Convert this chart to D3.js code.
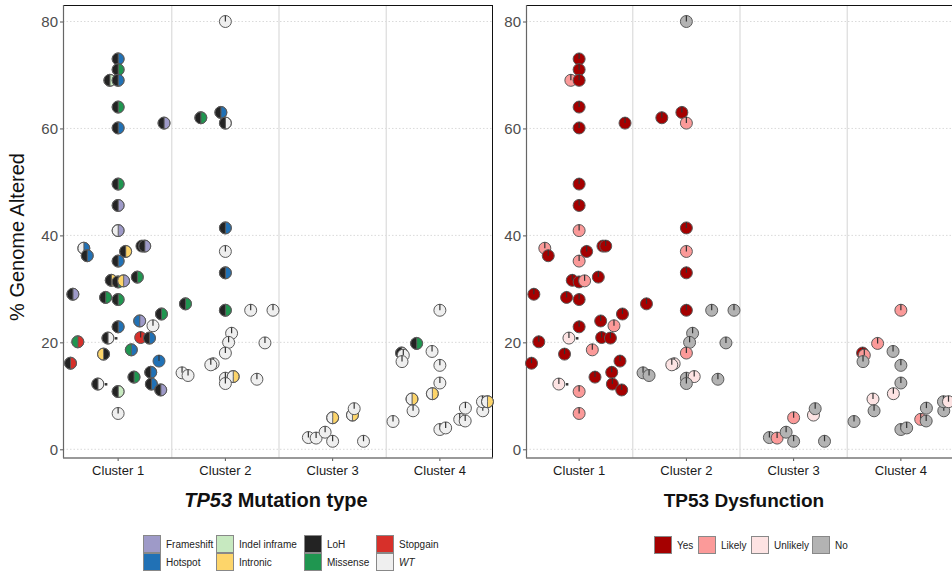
<!DOCTYPE html>
<html><head><meta charset="utf-8">
<script src="https://cdn.jsdelivr.net/npm/d3@7"></script>
<style>body{margin:0;background:#fff}svg{display:block;font-family:"Liberation Sans",Arial,sans-serif}</style>
</head><body><svg id="c" width="952" height="572"></svg>
<script>
// ---------- data ----------
const clusters = ["Cluster 1","Cluster 2","Cluster 3","Cluster 4"];
const yTicks = [0,20,40,60,80];
const mutTypes = ["Frameshift","Hotspot","Indel inframe","Intronic","LoH","Missense","Stopgain","WT"];
const mutColors = ["#9e9ac8","#2171b5","#c7e9c0","#fdd56a","#232323","#1f9650","#d7302a","#efefef"];
const dysTypes = ["Yes","Likely","Unlikely","No"];
const dysColors = ["#a50000","#fb9a99","#fde3e3","#b3b3b3"];

const ptCluster = [1,1,1,1,1,1,1,1,1,1,1,1,1,1,1,1,1,1,1,1,1,1,1,1,1,1,1,1,1,1,1,1,1,1,1,1,1,1,1,1,1,1,
  2,2,2,2,2,2,2,2,2,2,2,2,2,2,2,2,2,2,2,2,2,2,2,
  3,3,3,3,3,3,3,3,
  4,4,4,4,4,4,4,4,4,4,4,4,4,4,4,4,4,4,4,4];
const ptJitter = [0,0,-0.077,0,0,0,0.428,0,0,0,-0.320,-0.288,0.070,0.222,0.248,0,-0.064,0,0.051,0.179,-0.422,-0.117,0,0.404,0,0.201,0.325,-0.095,-0.376,0.210,0.292,-0.136,0.123,-0.444,0.381,0.304,0.148,-0.189,0.310,0.397,0,0,
  0,-0.229,-0.042,0,0,0,0,-0.372,0,0.236,0.444,0.058,0.030,0.369,0,-0.114,-0.136,-0.404,-0.348,0,0.073,0,0.294,
  -0.226,-0.154,-0.070,0,0,0.185,0.201,0.288,
  0,-0.217,-0.357,-0.341,-0.353,-0.073,0,0,-0.070,-0.260,-0.250,-0.437,0,0.054,0.185,0.236,0.238,0.400,0.397,0.444];
const ptGenome = [73.0,71.0,69.0,69.0,64.0,60.1,61.0,49.6,45.6,40.9,37.6,36.2,37.0,38.0,38.0,35.2,31.6,31.3,31.5,32.2,29.0,28.4,28.0,25.3,22.9,24.0,23.1,20.8,20.1,20.9,20.8,17.8,18.6,16.1,16.5,14.4,13.5,12.2,12.2,11.1,10.8,6.7,
  80.0,62.0,63.0,61.0,41.4,37.0,33.0,27.2,26.0,26.0,26.0,21.7,20.0,19.9,18.0,16.0,15.8,14.3,13.8,13.3,13.6,12.3,13.1,
  2.2,2.1,3.2,1.5,5.9,6.4,7.6,1.5,
  26.0,19.8,18.0,17.6,16.4,18.3,15.7,12.4,10.4,9.4,7.2,5.2,3.7,4.0,5.6,5.3,7.7,7.2,8.9,8.9];
const ptLeft = ["LoH","LoH","LoH","LoH","LoH","LoH","LoH","LoH","LoH","WT","WT","LoH","LoH","LoH","LoH","LoH","LoH","LoH","Intronic","LoH","LoH","LoH","LoH","LoH","LoH","Hotspot","WT","LoH","Missense","Stopgain","LoH","Intronic","Missense","LoH","Hotspot","LoH","LoH","LoH","LoH","LoH","LoH","WT",
  "WT","LoH","LoH","LoH","LoH","WT","LoH","LoH","LoH","WT","WT","WT","WT","WT","WT","WT","WT","WT","WT","WT","WT","WT","WT",
  "WT","WT","WT","WT","WT","WT","WT","WT",
  "WT","LoH","LoH","WT","WT","WT","WT","WT","WT","WT","WT","WT","WT","WT","WT","WT","WT","WT","WT","WT"];
const ptRight = ["Hotspot","Missense","Indel inframe","Hotspot","Missense","Hotspot","Frameshift","Missense","Frameshift","Frameshift","Hotspot","Hotspot","Intronic","LoH","Frameshift","Hotspot","Intronic","Missense","Frameshift","Missense","Frameshift","Missense","Missense","Missense","Hotspot","Frameshift","WT","WT","Stopgain","Stopgain","Hotspot","LoH","Hotspot","Stopgain","Hotspot","Hotspot","Missense","WT","Hotspot","Frameshift","Indel inframe","WT",
  "WT","Missense","Hotspot","WT","Hotspot","WT","Hotspot","Missense","Missense","WT","WT","WT","WT","WT","WT","WT","WT","WT","WT","WT","Intronic","WT","WT",
  "WT","WT","WT","WT","Intronic","Intronic","WT","WT",
  "WT","Missense","WT","WT","WT","WT","WT","WT","Intronic","Intronic","WT","WT","WT","WT","WT","WT","WT","WT","WT","Intronic"];
const ptDys = ["Yes","Yes","Likely","Yes","Yes","Yes","Yes","Yes","Yes","Likely","Likely","Yes","Yes","Yes","Yes","Likely","Yes","Yes","Likely","Yes","Yes","Yes","Yes","Yes","Yes","Yes","Likely","Unlikely","Yes","Yes","Yes","Yes","Likely","Yes","Yes","Yes","Yes","Unlikely","Yes","Yes","Likely","Likely",
  "No","Yes","Yes","Likely","Yes","Likely","Yes","Yes","Yes","No","No","No","No","No","Likely","Unlikely","Unlikely","No","No","No","Unlikely","No","No",
  "No","Likely","No","No","Likely","Unlikely","No","No",
  "Likely","Likely","Yes","Likely","No","No","No","No","Unlikely","Unlikely","No","No","No","No","Likely","No","No","No","No","Unlikely"];
const ptExtra = ptGenome.map((_,i)=> (i===27||i===37) ? 1 : 0); // small secondary marker next to two samples

const points = ptGenome.map((v,i)=>({cluster:clusters[ptCluster[i]-1], jit:ptJitter[i], v, left:ptLeft[i], right:ptRight[i], dys:ptDys[i], extra:ptExtra[i]}));

// ---------- drawing ----------
const svg = d3.select("#c");
const mutColor = d3.scaleOrdinal(mutTypes, mutColors);
const dysColor = d3.scaleOrdinal(dysTypes, dysColors);
const y = d3.scaleLinear().domain([0,80]).range([449.3,21.5]);
const plotTop = 5, plotBottom = 458, R = 6;
const arc = d3.arc().innerRadius(0).outerRadius(R);

const panels = [
  {x0:63, x1:493, band:[64.5,493.5], mode:"mut"},
  {x0:526, x1:960, band:[525.5,954.5], mode:"dys"}
];

panels.forEach(p=>{
  const x = d3.scaleBand().domain(clusters).range(p.band).padding(0);
  const g = svg.append("g");
  g.selectAll(".hg").data(yTicks).join("line")
    .attr("x1",p.x0).attr("x2",p.x1).attr("y1",d=>y(d)).attr("y2",d=>y(d))
    .attr("stroke","#d0d0d0").attr("stroke-width",0.8).attr("stroke-dasharray","1.5,2");
  g.selectAll(".vs").data(clusters.slice(1)).join("line")
    .attr("x1",d=>x(d)).attr("x2",d=>x(d)).attr("y1",plotTop).attr("y2",plotBottom)
    .attr("stroke","#dedede").attr("stroke-width",1.3);
  g.append("line").attr("x1",p.x0).attr("x2",p.x1).attr("y1",plotTop+0.5).attr("y2",plotTop+0.5).attr("stroke","#111").attr("stroke-width",1);
  if (p.mode==="mut") g.append("line").attr("x1",p.x1-0.5).attr("x2",p.x1-0.5).attr("y1",plotTop).attr("y2",plotBottom).attr("stroke","#111").attr("stroke-width",1);
  const ya = g.append("g").attr("transform",`translate(${p.x0},0)`)
    .call(d3.axisLeft(y).tickValues(yTicks).tickSize(3).tickPadding(2).tickSizeOuter(0));
  ya.select(".domain").remove();
  ya.selectAll("line").attr("stroke","#555");
  ya.selectAll("text").attr("font-size",15).attr("fill","#4d4d4d").attr("font-family","Liberation Sans, Arial");
  g.append("line").attr("x1",p.x0+0.5).attr("x2",p.x0+0.5).attr("y1",plotTop).attr("y2",plotBottom).attr("stroke","#666").attr("stroke-width",1.2);
  const xa = g.append("g").attr("transform",`translate(0,${plotBottom})`)
    .call(d3.axisBottom(x).tickSize(3).tickPadding(5).tickSizeOuter(0));
  xa.select(".domain").remove();
  xa.selectAll("line").attr("stroke","#555");
  xa.selectAll("text").attr("font-size",13).attr("fill","#1a1a1a").attr("font-family","Liberation Sans, Arial");
  g.append("line").attr("x1",p.x0).attr("x2",p.x1).attr("y1",plotBottom).attr("y2",plotBottom).attr("stroke","#777").attr("stroke-width",1.3);

  const pts = g.selectAll(".pt").data(points).join("g")
    .attr("transform",d=>`translate(${x(d.cluster)+x.bandwidth()/2 + d.jit*x.bandwidth()},${y(d.v)})`);
  pts.each(function(d){
    const s = d3.select(this);
    if (d.extra) {
      s.append("rect").attr("x",R+1).attr("y",-1).attr("width",2.5).attr("height",2.5).attr("fill","#333");
    }
    if (p.mode==="dys" || d.left===d.right) {
      const c = p.mode==="dys" ? dysColor(d.dys) : mutColor(d.right);
      s.append("circle").attr("r",R).attr("fill",c).attr("stroke","#5a5a5a").attr("stroke-width",1);
      s.append("line").attr("x1",0).attr("y1",0).attr("x2",0).attr("y2",-R).attr("stroke","#333").attr("stroke-width",1.2);
    } else {
      s.append("path").attr("d",arc({startAngle:0,endAngle:Math.PI})).attr("fill",mutColor(d.right)).attr("stroke","#5a5a5a").attr("stroke-width",0.8);
      s.append("path").attr("d",arc({startAngle:Math.PI,endAngle:2*Math.PI})).attr("fill",mutColor(d.left)).attr("stroke","#5a5a5a").attr("stroke-width",0.8);
      s.append("circle").attr("r",R).attr("fill","none").attr("stroke","#5a5a5a").attr("stroke-width",1);
    }
  });
});

svg.append("text").attr("transform","translate(24,237) rotate(-90)").attr("text-anchor","middle")
  .attr("font-size",20).attr("fill","#111").text("% Genome Altered");

const t1 = svg.append("text").attr("x",276).attr("y",507).attr("text-anchor","middle").attr("font-size",20).attr("font-weight","bold").attr("fill","#111");
t1.append("tspan").attr("font-style","italic").text("TP53");
t1.append("tspan").text(" Mutation type");
svg.append("text").attr("x",744).attr("y",507).attr("text-anchor","middle").attr("font-size",19).attr("font-weight","bold").attr("fill","#111").text("TP53 Dysfunction");

const legMut = svg.append("g");
const legMutCols = [143,216,304,376];
mutTypes.forEach((t,i)=>{
  const col = Math.floor(i/2), row = i%2;
  const bx = legMutCols[col], by = 535 + row*18;
  legMut.append("rect").attr("x",bx+0.5).attr("y",by+0.5).attr("width",17).attr("height",17).attr("fill",mutColor(t)).attr("stroke","#888").attr("stroke-width",1);
  legMut.append("text").attr("x",bx+23).attr("y",by+13).attr("font-size",10).attr("fill","#222")
    .attr("font-style",t==="WT"?"italic":null).text(t);
});
const legDys = svg.append("g");
const dysX = [654,698,751,812];
dysTypes.forEach((t,i)=>{
  legDys.append("rect").attr("x",dysX[i]+0.5).attr("y",536.5).attr("width",17).attr("height",17).attr("fill",dysColor(t)).attr("stroke","#888").attr("stroke-width",1);
  legDys.append("text").attr("x",dysX[i]+23).attr("y",549).attr("font-size",10).attr("fill","#222").text(t);
});
</script></body></html>
